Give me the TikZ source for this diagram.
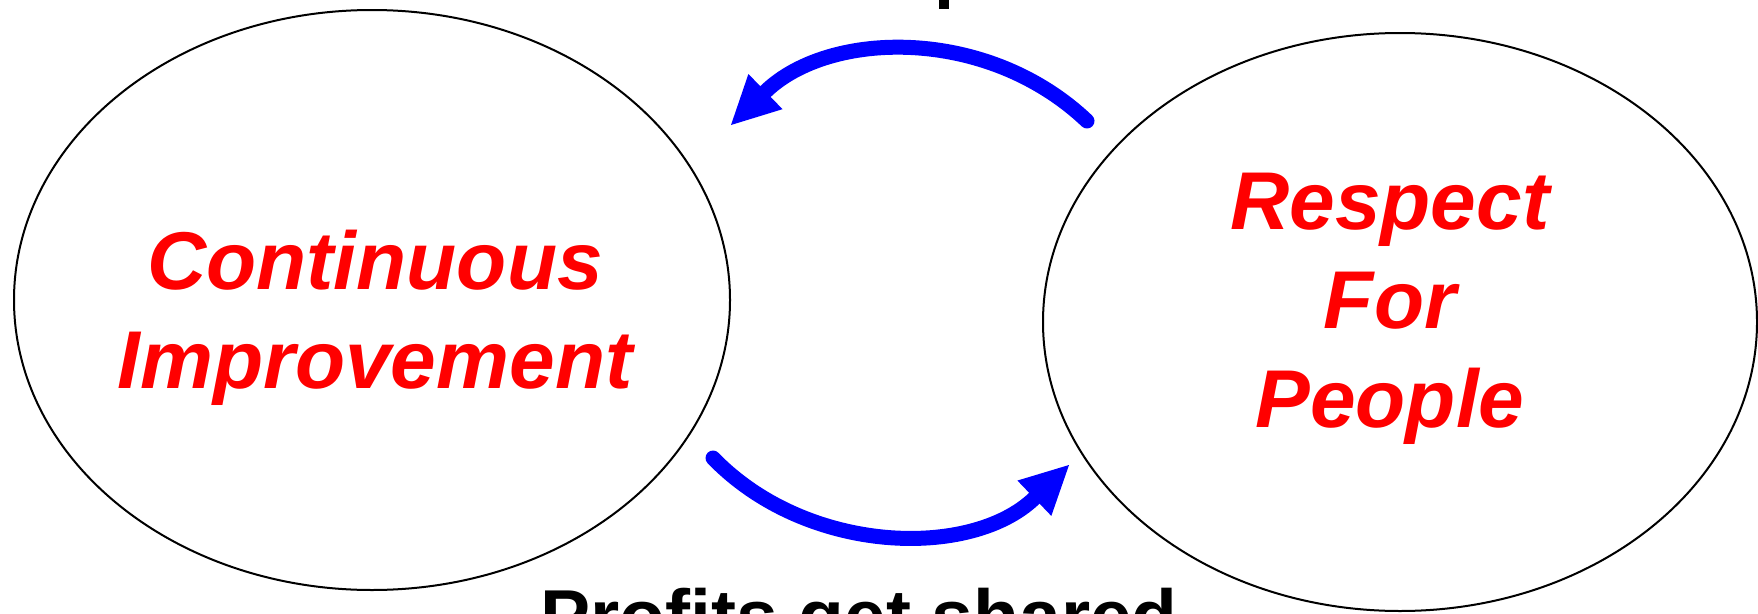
\documentclass[tikz,border=0pt]{standalone}
\usepackage{fontspec}
\setmainfont{Liberation Sans}
\usetikzlibrary{arrows.meta,shapes.geometric}

\begin{document}
\begin{tikzpicture}[x=1pt,y=-1pt,
        ovalo/.style={draw=black,line width=2pt,ellipse,minimum width=716pt,minimum height=580pt,inner sep=0pt},
        lema/.style={text=red,align=center,inner sep=0pt,font=\fontsize{82}{99}\selectfont\bfseries\itshape},
        curva/.style={draw=blue,line width=15pt,line cap=round,-{Triangle[length=48pt,width=49pt,line width=0pt]}}]
        \useasboundingbox (0,0) rectangle (1758,613);
        \node[ovalo] (ci) at (372,300) {};
        \node[ovalo,minimum width=714pt,minimum height=578pt] (rp) at (1400,322) {};
        \node[lema] (tci) at (375,318) {Continuous\\Improvement};
        \node[lema] (trp) at (1390,309) {Respect\\For\\People};
        \node[anchor=base,inner sep=0pt,font=\fontsize{75}{90}\selectfont\bfseries] (pie) at (859,642) {Profits get shared};
        \fill (939,0) rectangle (949,9);
        \coordinate (a1) at (1087,121);\coordinate (b1) at (731,125);
        \coordinate (a2) at (713,458);\coordinate (b2) at (1069,465);
        \draw[curva] (a1) .. controls (987,26) and (829,30) .. (b1);
        \draw[curva] (a2) .. controls (807,555) and (971,559) .. (b2);
      \end{tikzpicture}
\end{document}
